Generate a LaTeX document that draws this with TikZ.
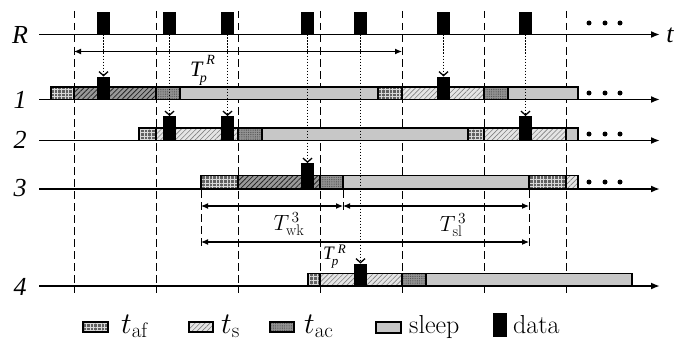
\RequirePackage{fix-cm}
\documentclass[tikz,border=0pt]{standalone}
\usepackage{fontspec}
\newfontfamily\tms{Liberation Serif}
\usetikzlibrary{patterns.meta,arrows.meta}
\tikzset{
 axisline/.style={line width=1.8pt,-{Latex[length=9pt,width=7pt]}},
 vdash/.style={line width=0.9pt,dash pattern=on 7.5pt off 4.5pt},
 seg/.style={draw=black,line width=1.1pt},
 tafp/.style={seg,preaction={fill=black!62},pattern={Hatch[angle=0,distance=3.6pt,line width=0.6pt]},pattern color=black!15},
 tsp/.style={seg,preaction={fill=black!10},pattern={Lines[angle=45,distance=3.5pt,line width=0.6pt]},pattern color=black!50},
 dhp/.style={seg,preaction={fill=black!40},pattern={Lines[angle=45,distance=3.5pt,line width=0.8pt]},pattern color=black!85},
 tacp/.style={seg,preaction={fill=black!42},pattern={Dots[distance=1.8pt,radius=0.45pt]},pattern color=black!75},
 slp/.style={seg,fill=black!22},
 pulse/.style={fill=black,inner sep=0,outer sep=0,minimum width=13pt,anchor=south},
 dotarr/.style={line width=1.7pt,dash pattern=on 1.8pt off 1.2pt,-{Straight Barb[length=4pt,width=9pt,line width=1.3pt]}},
 dim/.style={line width=1.1pt,{Latex[length=7pt,width=6pt]}-{Latex[length=7pt,width=6pt]}},
 bigdot/.style={circle,fill=black,inner sep=0,minimum size=5pt},
 rowlab/.style={anchor=base,inner sep=0,font=\tms\itshape\fontsize{26}{26}\selectfont},
 legtxt/.style={anchor=base west,inner sep=0,font=\fontsize{26}{26}\selectfont},
 legmath/.style={anchor=base west,inner sep=0,font=\fontsize{30}{30}\selectfont},
}
\begin{document}
\begin{tikzpicture}[x=1pt,y=-1pt]
\useasboundingbox (0,0) rectangle (700,345);
% dashed verticals
\foreach \x in {74,156,238,320,402,484,566}
  \draw[vdash] (\x,11) -- (\x,293);
\draw[vdash] (201,190) -- (201,246);
\draw[vdash] (529,190) -- (529,246);
\draw[vdash] (343,190) -- (343,211);
% axes
\coordinate (r0) at (39,34.5);  \coordinate (r1) at (660,34.5);
\coordinate (a0) at (39,99.5);  \coordinate (a1) at (660,99.5);
\coordinate (b0) at (39,140.5); \coordinate (b1) at (660,140.5);
\coordinate (c0) at (39,189);   \coordinate (c1) at (660,189);
\coordinate (e0) at (39,286);   \coordinate (e1) at (660,286);
\draw[axisline] (r0) -- (r1);
\draw[axisline] (a0) -- (a1);
\draw[axisline] (b0) -- (b1);
\draw[axisline] (c0) -- (c1);
\draw[axisline] (e0) -- (e1);
% row labels
\node[rowlab] (lR) at (20,44) {R};
\node[rowlab] (l1) at (20,108) {1};
\node[rowlab] (l2) at (20,148) {2};
\node[rowlab] (l3) at (20,196) {3};
\node[rowlab] (l4) at (20,295) {4};
\node[rowlab] (lt) at (670,43) {t};
% row 1
\path[tafp] (51,87) rectangle (74,99.5);
\path[dhp]  (74,87) rectangle (156,99.5);
\path[tacp] (156,87) rectangle (180,99.5);
\path[slp]  (180,87) rectangle (378,99.5);
\path[tafp] (378,87) rectangle (402,99.5);
\path[tsp]  (402,87) rectangle (484,99.5);
\path[tacp] (484,87) rectangle (508,99.5);
\path[slp]  (508,87) rectangle (578,99.5);
% row 2
\path[tafp] (139,128) rectangle (156,140.5);
\path[tsp]  (156,128) rectangle (238,140.5);
\path[tacp] (238,128) rectangle (262,140.5);
\path[slp]  (262,128) rectangle (468,140.5);
\path[tafp] (468,128) rectangle (484,140.5);
\path[tsp]  (484,128) rectangle (566,140.5);
\path[slp]  (566,128) rectangle (578,140.5);
% row 3
\path[tafp] (201,175.5) rectangle (238,189);
\path[dhp]  (238,175.5) rectangle (320,189);
\path[tacp] (320,175.5) rectangle (343,189);
\path[slp]  (343,175.5) rectangle (529,189);
\path[tafp] (529,175.5) rectangle (566,189);
\path[tsp]  (566,175.5) rectangle (578,189);
% row 4
\path[tafp] (308,273.5) rectangle (320,286);
\path[tsp]  (320,273.5) rectangle (402,286);
\path[tacp] (402,273.5) rectangle (426,286);
\path[slp]  (426,273.5) rectangle (632,286);
% pulses on R
\node[pulse,minimum height=22.5pt] (p1) at (103.5,34.5) {};
\node[pulse,minimum height=22.5pt] (p2) at (169.5,34.5) {};
\node[pulse,minimum height=22.5pt] (p3) at (227.5,34.5) {};
\node[pulse,minimum height=22.5pt] (p4) at (307.5,34.5) {};
\node[pulse,minimum height=22.5pt] (p5) at (360.5,34.5) {};
\node[pulse,minimum height=22.5pt] (p6) at (443.5,34.5) {};
\node[pulse,minimum height=22.5pt] (p7) at (525.5,34.5) {};
% data blocks
\node[pulse,minimum height=23pt] (d1) at (103.5,99.5) {};
\node[pulse,minimum height=24.5pt] (d2) at (169.5,140.5) {};
\node[pulse,minimum height=24.5pt] (d3) at (227.5,140.5) {};
\node[pulse,minimum height=26pt] (d4) at (307.5,189) {};
\node[pulse,minimum height=22.5pt] (d5) at (360.5,286) {};
\node[pulse,minimum height=23pt] (d6) at (443.5,99.5) {};
\node[pulse,minimum height=24.5pt] (d7) at (525.5,140.5) {};
% dotted arrows
\draw[dotarr] (p1.south) -- (d1.north);
\draw[dotarr] (p2.south) -- (d2.north);
\draw[dotarr] (p3.south) -- (d3.north);
\draw[dotarr] (p4.south) -- (d4.north);
\draw[dotarr] (p5.south) -- (d5.north);
\draw[dotarr] (p6.south) -- (d6.north);
\draw[dotarr] (p7.south) -- (d7.north);
% ellipsis dots
\foreach \y/\n in {23/r,93/a,134/b,182/c}{
  \node[bigdot] (\n x1) at (589,\y) {};
  \node[bigdot] (\n x2) at (605,\y) {};
  \node[bigdot] (\n x3) at (620,\y) {};
}
% dimension arrows
\coordinate (m1) at (74,51.5);  \coordinate (m2) at (402,51.5);
\draw[dim] (m1) -- (m2);
\node[anchor=base west,inner sep=0,font=\tms\itshape\fontsize{22}{22}\selectfont] (tpr1) at (190,76)
  {T\kern-2.5pt\raisebox{-6pt}{\fontsize{14}{14}\selectfont p}\kern-0.5pt\raisebox{12pt}{\fontsize{14}{14}\selectfont R}};
\coordinate (w1) at (201,206); \coordinate (w2) at (343,206); \coordinate (w3) at (529,206);
\draw[dim] (w1) -- (w2);
\draw[dim] (w2) -- (w3);
\node[inner sep=0,font=\fontsize{22}{22}\selectfont] (twk) at (289,224) {$T^{\,3}_{\mathrm{wk}}$};
\node[inner sep=0,font=\fontsize{22}{22}\selectfont] (tsl) at (453,225) {$T^{\,3}_{\mathrm{sl}}$};
\coordinate (q1) at (201,242); \coordinate (q2) at (529,242);
\draw[dim] (q1) -- (q2);
\node[anchor=base west,inner sep=0,font=\tms\itshape\fontsize{19}{19}\selectfont] (tpr2) at (323,259)
  {T\kern-2pt\raisebox{-6pt}{\fontsize{13}{13}\selectfont p}\kern-0.5pt\raisebox{6pt}{\fontsize{13}{13}\selectfont R}};
% legend
\path[tafp] (83,322) rectangle (108,332);
\node[legmath] (ltaf) at (121,333) {$t_{\mathrm{af}}$};
\path[tsp] (189,322) rectangle (213,332);
\node[legmath] (lts) at (221,333) {$t_{\mathrm{s}}$};
\path[tacp] (270,322) rectangle (294,332);
\node[legmath] (ltac) at (304,333) {$t_{\mathrm{ac}}$};
\path[slp] (376,322) rectangle (401,333);
\node[legtxt] (lsl) at (409,333) {sleep};
\node[pulse,minimum height=24pt,minimum width=14pt] (ldata) at (500,337) {};
\node[legtxt] (ldt) at (513,333) {data};
\end{tikzpicture}
\end{document}
